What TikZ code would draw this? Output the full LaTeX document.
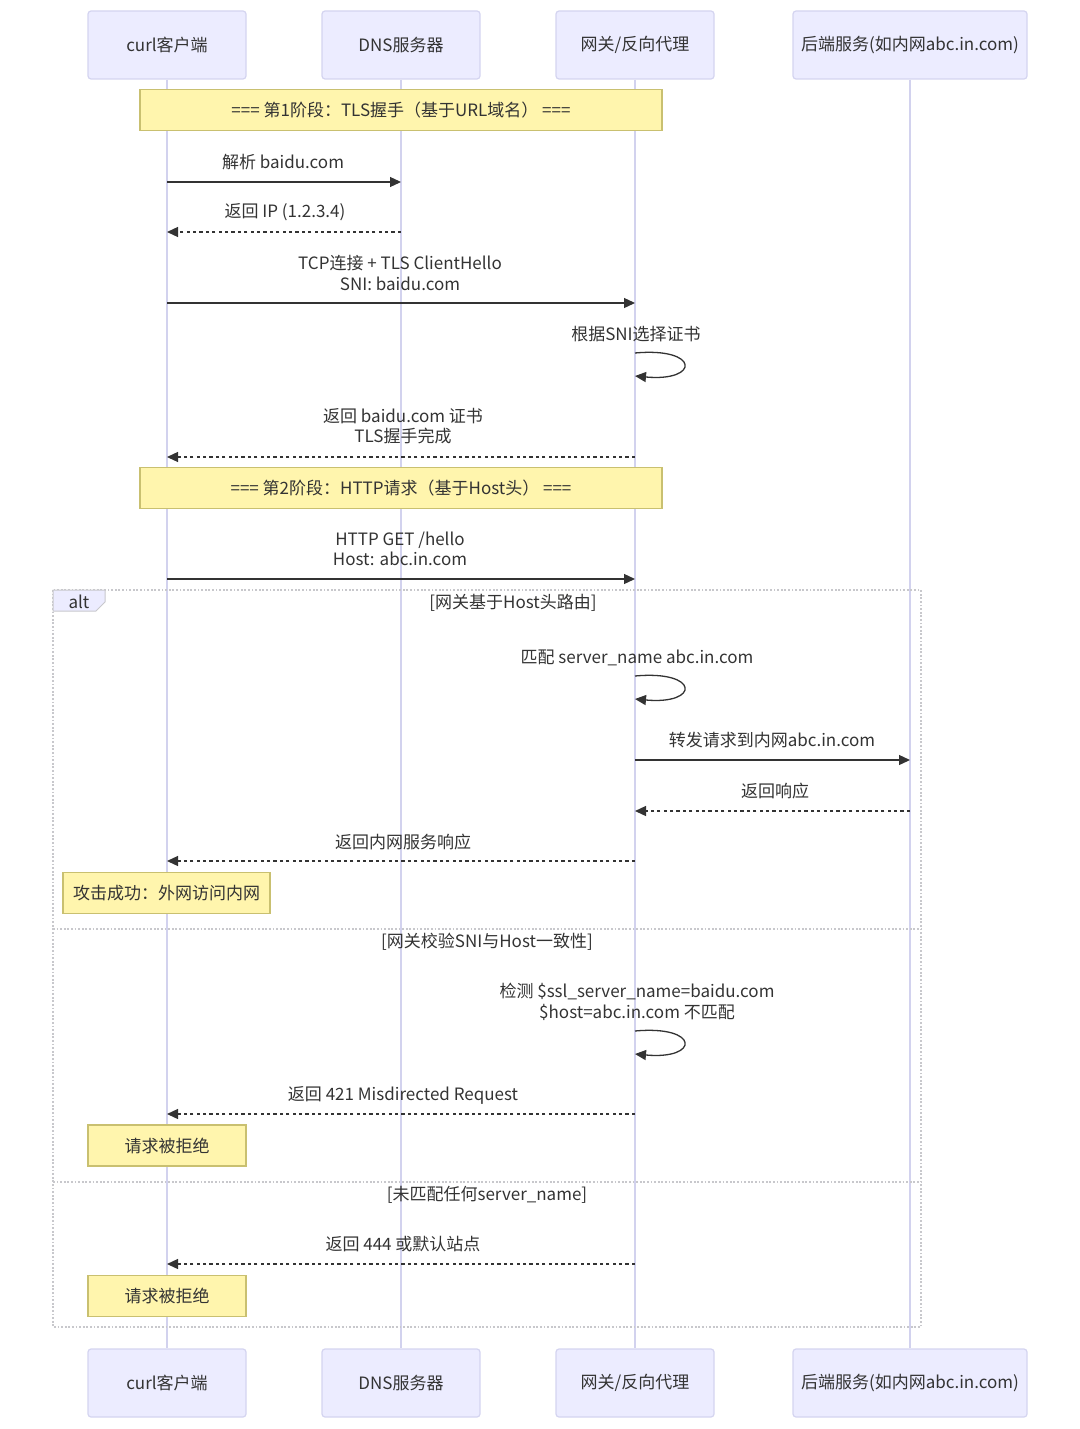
\documentclass[tikz,border=0pt]{standalone}
\usepackage{fontspec}
\setmainfont{Noto Sans CJK SC}
\usetikzlibrary{arrows.meta}
\definecolor{actfill}{HTML}{ECECFF}
\definecolor{actdraw}{HTML}{D4D4F0}
\definecolor{life}{HTML}{D2D2EE}
\definecolor{notefill}{HTML}{FFF5AD}
\definecolor{notedraw}{HTML}{C9C070}
\definecolor{txt}{HTML}{333333}
\definecolor{altdraw}{HTML}{C8C8CC}
\tikzset{
  actor/.style={draw=actdraw,fill=actfill,line width=0.6pt,rounded corners=1.5pt,minimum height=34pt,inner sep=0pt,text=txt,font=\fontsize{8.5pt}{10pt}\selectfont},
  notebox/.style={draw=notedraw,fill=notefill,line width=0.6pt,minimum height=20.5pt,inner sep=0pt,text=txt,font=\fontsize{8.5pt}{10pt}\selectfont},
  lbl/.style={text=txt,font=\fontsize{8.5pt}{10.2pt}\selectfont,align=center,inner sep=0pt},
  lifeline/.style={draw=life,line width=1pt},
  msg/.style={draw=txt,line width=0.65pt,-{Triangle[length=5.5pt,width=5pt]}},
  reply/.style={msg,dash pattern=on 1.6pt off 1.6pt},
  altline/.style={draw=altdraw,line width=0.7pt,dash pattern=on 0.9pt off 0.9pt},
}
\begin{document}
\begin{tikzpicture}[x=0.5pt,y=-0.5pt]
\useasboundingbox (0,0) rectangle (1080,1429);
% actors top
\node[actor,minimum width=79pt] (a1) at (167,45) {curl客户端};
\node[actor,minimum width=79pt] (a2) at (401,45) {DNS服务器};
\node[actor,minimum width=79pt] (a3) at (635,45) {网关/反向代理};
\node[actor,minimum width=117pt] (a4) at (910,45) {后端服务(如内网abc.in.com)};
% actors bottom
\node[actor,minimum width=79pt] (b1) at (167,1383) {curl客户端};
\node[actor,minimum width=79pt] (b2) at (401,1383) {DNS服务器};
\node[actor,minimum width=79pt] (b3) at (635,1383) {网关/反向代理};
\node[actor,minimum width=117pt] (b4) at (910,1383) {后端服务(如内网abc.in.com)};
% lifelines
\foreach \i in {1,2,3,4} {\draw[lifeline] (a\i.south) -- (b\i.north);}
% alt frame
\draw[altline] (53,590) rectangle (921,1327);
\draw[altline] (53,929) -- (921,929);
\draw[altline] (53,1182) -- (921,1182);
\draw[draw=altdraw,fill=actfill,line width=0.5pt] (53,590) -- (105,590) -- (105,602) -- (96,611) -- (53,611) -- cycle;
\node[lbl] (altl) at (79,602) {alt};
\node[lbl] (g1) at (513,603) {[网关基于Host头路由]};
\node[lbl] (g2) at (487,942) {[网关校验SNI与Host一致性]};
\node[lbl] (g3) at (487,1195) {[未匹配任何server\_name]};
% phase notes
\node[notebox,minimum width=261pt] (n1) at (401,110) {=== 第1阶段：TLS握手（基于URL域名） ===};
% messages
\node[lbl] (m1) at (283,162) {解析 baidu.com};
\draw[msg] (a1 |- 0,182) -- (a2 |- 0,182);
\node[lbl] (m2) at (285,212) {返回 IP (1.2.3.4)};
\draw[reply] (a2 |- 0,232) -- (a1 |- 0,232);
\node[lbl] (m3) at (400,273) {TCP连接 + TLS ClientHello\\SNI: baidu.com};
\draw[msg] (a1 |- 0,303) -- (a3 |- 0,303);
\node[lbl] (m4) at (636,334) {根据SNI选择证书};
\draw[msg] (a3 |- 0,353) .. controls (700,347) and (700,382) .. (a3 |- 0,376);
\node[lbl] (m5) at (403,426) {返回 baidu.com 证书\\TLS握手完成};
\draw[reply] (a3 |- 0,457) -- (a1 |- 0,457);
\node[notebox,minimum width=261pt] (n2) at (401,488) {=== 第2阶段：HTTP请求（基于Host头） ===};
\node[lbl] (m6) at (400,549) {HTTP GET /hello\\Host: abc.in.com};
\draw[msg] (a1 |- 0,579) -- (a3 |- 0,579);
\node[lbl] (m7) at (637,658) {匹配 server\_name abc.in.com};
\draw[msg] (a3 |- 0,676) .. controls (700,670) and (700,705) .. (a3 |- 0,699);
\node[lbl] (m8) at (772,740) {转发请求到内网abc.in.com};
\draw[msg] (a3 |- 0,760) -- (a4 |- 0,760);
\node[lbl] (m9) at (775,791) {返回响应};
\draw[reply] (a4 |- 0,811) -- (a3 |- 0,811);
\node[lbl] (m10) at (403,842) {返回内网服务响应};
\draw[reply] (a3 |- 0,861) -- (a1 |- 0,861);
\node[notebox,minimum width=103.5pt] (n3) at (166.5,893) {攻击成功：外网访问内网};
\node[lbl] (m11) at (637,1002) {检测 \$ssl\_server\_name=baidu.com\\\$host=abc.in.com 不匹配};
\draw[msg] (a3 |- 0,1031) .. controls (700,1025) and (700,1060) .. (a3 |- 0,1054);
\node[lbl] (m12) at (403,1095) {返回 421 Misdirected Request};
\draw[reply] (a3 |- 0,1114) -- (a1 |- 0,1114);
\node[notebox,minimum width=79pt] (n4) at (167,1145.5) {请求被拒绝};
\node[lbl] (m13) at (403,1244) {返回 444 或默认站点};
\draw[reply] (a3 |- 0,1264) -- (a1 |- 0,1264);
\node[notebox,minimum width=79pt] (n5) at (167,1296) {请求被拒绝};
\end{tikzpicture}
\end{document}
